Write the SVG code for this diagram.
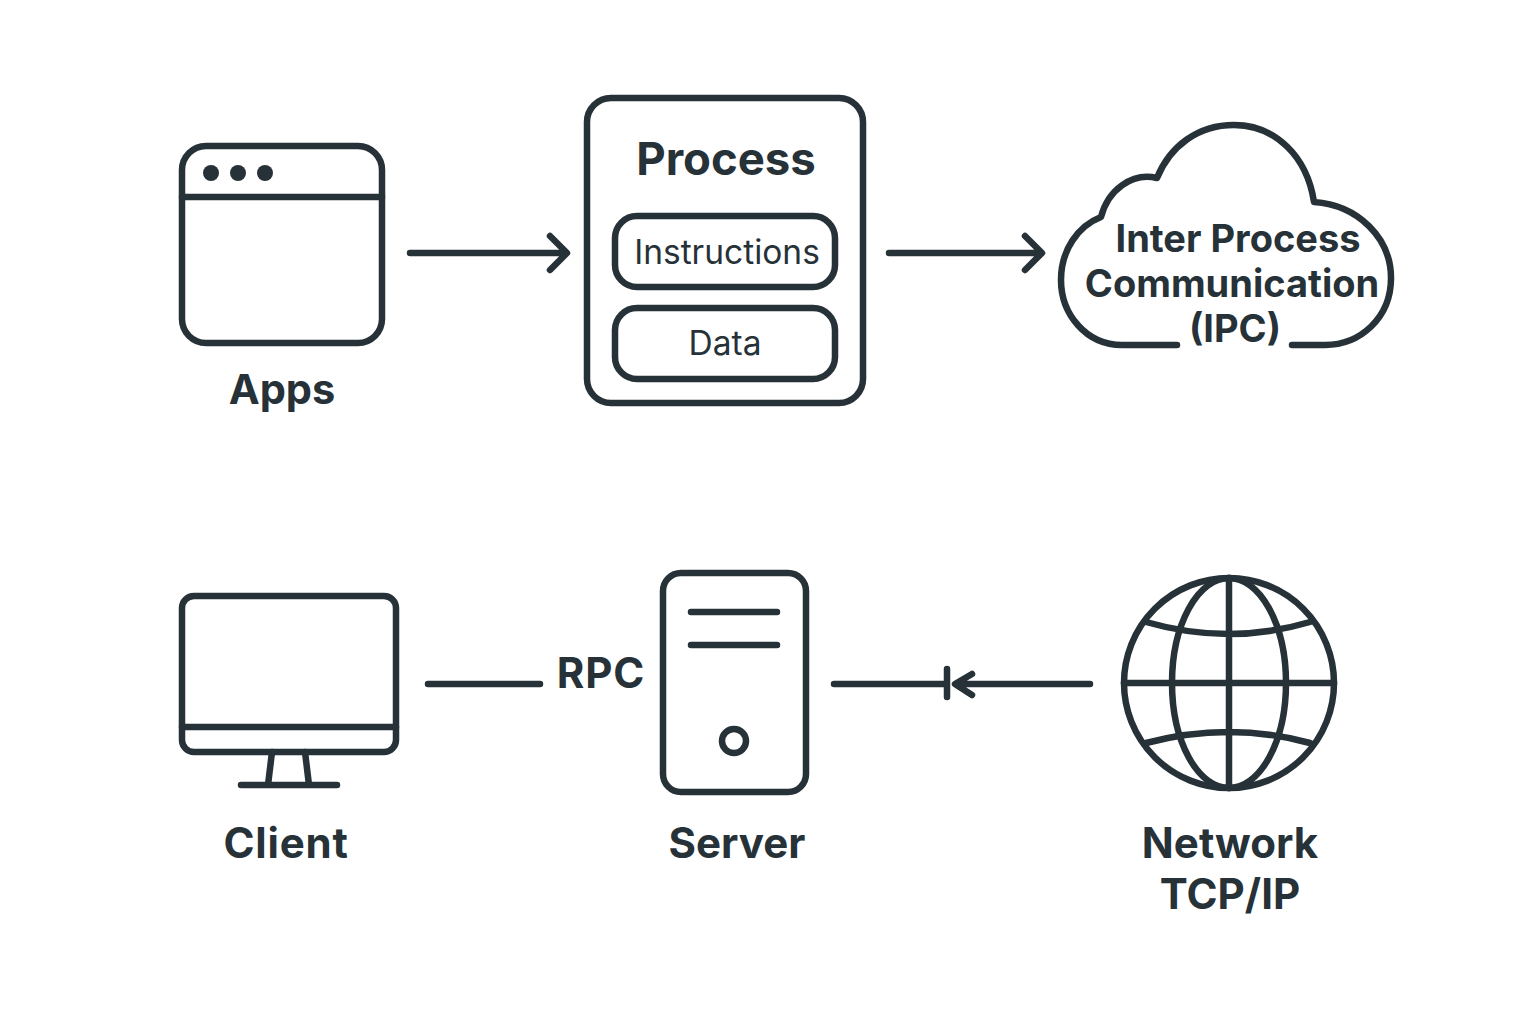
<svg xmlns="http://www.w3.org/2000/svg" width="1536" height="1024" viewBox="0 0 1536 1024">
<style>
.s{fill:none;stroke:#263238;stroke-width:6.5;stroke-linecap:round;stroke-linejoin:round}
.t{fill:#263238;font-family:Inter,"Liberation Sans",sans-serif;text-anchor:middle}
.b{font-weight:700;font-size:42px}
.m{font-weight:700;font-size:38px}
.r{font-weight:400;font-size:33.5px}
.d{fill:#263238}
</style>
<rect width="1536" height="1024" fill="#fff"/>
<g id="connectors">
<path class="s" d="M410 253H565M550 236L567 253L550 270"/>
<path class="s" d="M889 253H1040M1025 236L1042 253L1025 270"/>
<path class="s" d="M428 684H540"/>
<path class="s" d="M834 684H947M947 669V697M1090 684H958M972 674L955 684L972 695"/>
</g>
<g id="apps">
<rect class="s" x="182" y="146" width="200" height="197" rx="24"/>
<path class="s" d="M182 197H382"/>
<circle class="d" cx="211" cy="173" r="8"/><circle class="d" cx="238" cy="173" r="8"/><circle class="d" cx="265" cy="173" r="8"/>
<text class="t" x="282" y="404" font-size="41.5" font-weight="700">Apps</text>
</g>
<g id="process">
<rect class="s" x="587" y="98" width="276" height="305" rx="24"/>
<text class="t" x="726" y="175" font-size="45.5" font-weight="700">Process</text>
<rect class="s" x="615" y="216" width="220" height="71" rx="22"/>
<text class="t r" x="727" y="264">Instructions</text>
<rect class="s" x="615" y="308" width="220" height="71" rx="22"/>
<text class="t r" x="725" y="355">Data</text>
</g>
<g id="ipc">
<path class="s" d="M1177 345H1122C1086 345 1061 314 1061 280C1061 250 1078 226 1101 217C1108 190 1132 172 1157 178C1170 146 1198 125 1234 125C1275 125 1307 156 1314 202C1358 205 1391 238 1391 278C1391 318 1360 345 1325 345H1292"/>
<text class="t m" x="1238" y="252">Inter Process</text>
<text class="t m" x="1232" y="297">Communication</text>
<text class="t m" x="1235" y="342">(IPC)</text>
</g>
<g id="client">
<rect class="s" x="182" y="596" width="214" height="156" rx="12"/>
<path class="s" d="M182 727H396M272 752L268 785M305 752L309 785M241 785H337"/>
<text class="t b" x="286" y="858" letter-spacing="0.8">Client</text>
</g>
<text class="t b" x="601" y="688" letter-spacing="0.8">RPC</text>
<g id="server">
<rect class="s" x="663" y="573" width="143" height="219" rx="18"/>
<path class="s" d="M691 612H777M691 645H777"/>
<circle class="s" cx="734" cy="741" r="12"/>
<text class="t b" x="737" y="858">Server</text>
</g>
<g id="network">
<circle class="s" cx="1229" cy="683" r="105"/>
<ellipse class="s" cx="1229" cy="683" rx="57" ry="105"/>
<path class="s" d="M1229 578V788M1124 683H1334M1146 622Q1229 646 1310 622M1146 743Q1229 721 1310 743"/>
<text class="t b" x="1230" y="858">Network</text>
<text class="t b" x="1230" y="909">TCP/IP</text>
</g>
</svg>
